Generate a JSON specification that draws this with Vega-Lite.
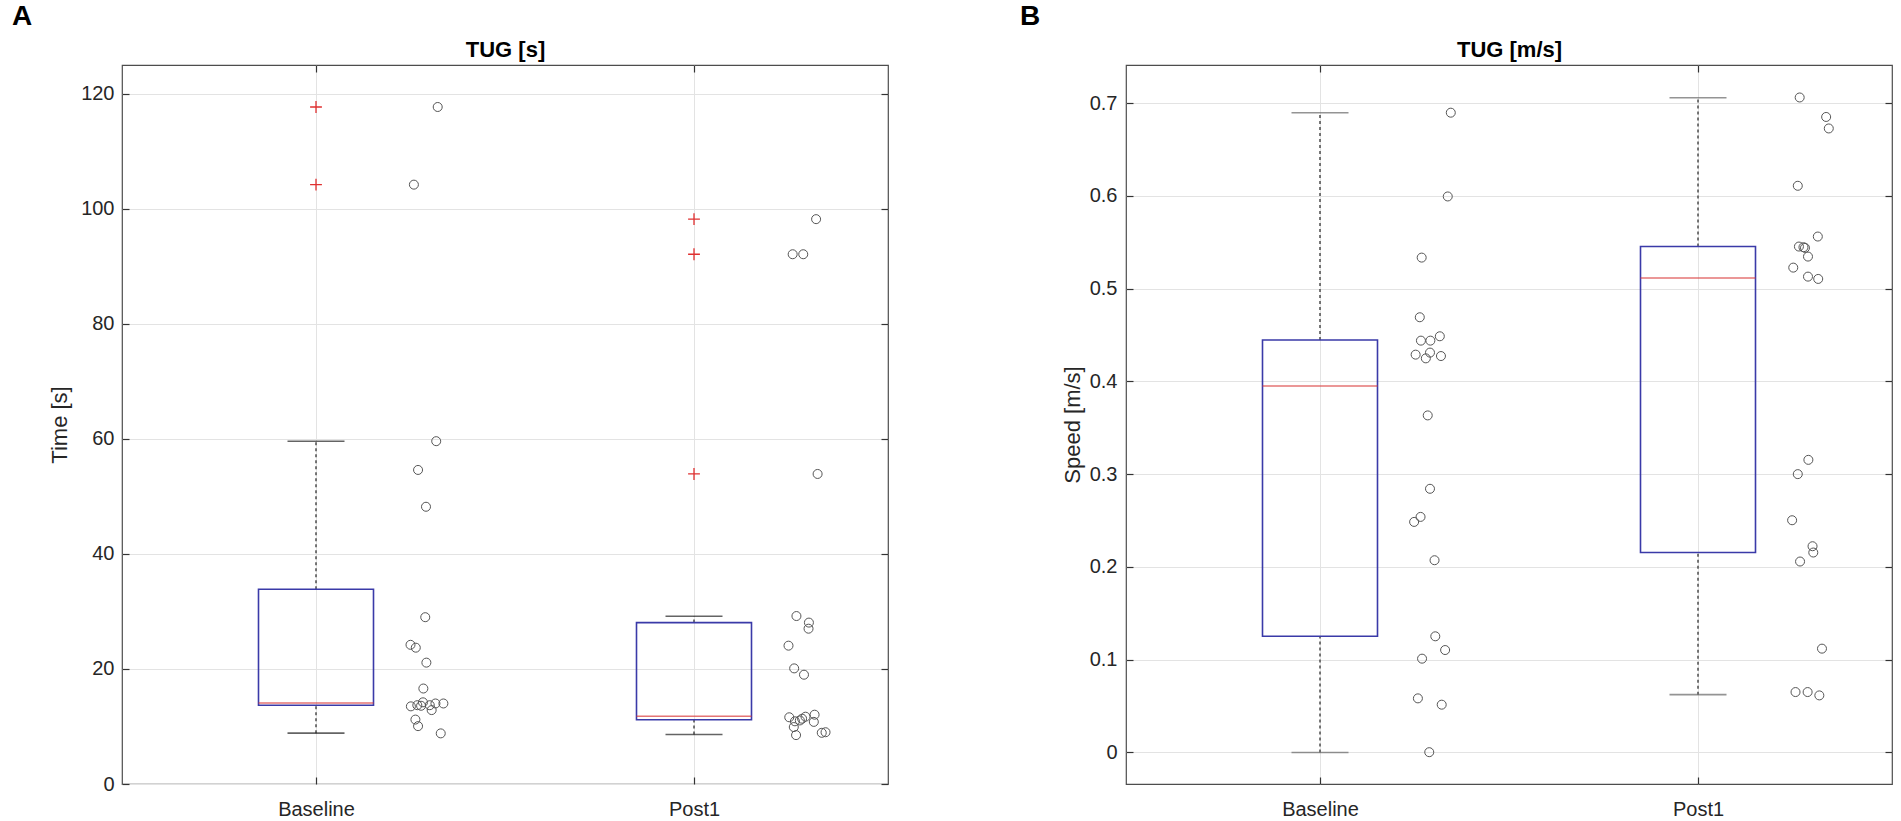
{
  "$schema": "https://vega.github.io/schema/vega-lite/v6.json",
  "padding": {"left": 11, "top": 2, "right": 0, "bottom": 0},
  "datasets": {
    "boxA": [
      {"grp": 1, "lo": 8.84, "q1": 13.7, "med": 14.1, "q3": 33.86, "hi": 59.6},
      {"grp": 2, "lo": 8.6, "q1": 11.17, "med": 11.8, "q3": 28.06, "hi": 29.16}
    ],
    "outA": [
      {"grp": 1, "val": 117.7},
      {"grp": 1, "val": 104.2},
      {"grp": 2, "val": 98.2},
      {"grp": 2, "val": 92.1},
      {"grp": 2, "val": 53.9}
    ],
    "ptsA": [
      {"xj": 1.322, "val": 117.7}, {"xj": 1.259, "val": 104.2}, {"xj": 1.318, "val": 59.6},
      {"xj": 1.270, "val": 54.6}, {"xj": 1.291, "val": 48.2}, {"xj": 1.289, "val": 29.0},
      {"xj": 1.250, "val": 24.2}, {"xj": 1.264, "val": 23.7}, {"xj": 1.292, "val": 21.1},
      {"xj": 1.284, "val": 16.6}, {"xj": 1.251, "val": 13.5}, {"xj": 1.268, "val": 13.7},
      {"xj": 1.283, "val": 14.2}, {"xj": 1.301, "val": 13.7}, {"xj": 1.316, "val": 14.0},
      {"xj": 1.337, "val": 14.0}, {"xj": 1.306, "val": 12.85}, {"xj": 1.278, "val": 13.6},
      {"xj": 1.263, "val": 11.2}, {"xj": 1.270, "val": 10.06}, {"xj": 1.330, "val": 8.8},
      {"xj": 2.323, "val": 98.2}, {"xj": 2.261, "val": 92.1}, {"xj": 2.289, "val": 92.1},
      {"xj": 2.327, "val": 53.9}, {"xj": 2.271, "val": 29.2}, {"xj": 2.304, "val": 28.06},
      {"xj": 2.303, "val": 27.0}, {"xj": 2.250, "val": 24.05}, {"xj": 2.265, "val": 20.1},
      {"xj": 2.291, "val": 19.0}, {"xj": 2.252, "val": 11.6}, {"xj": 2.267, "val": 10.9},
      {"xj": 2.280, "val": 11.05}, {"xj": 2.286, "val": 11.35}, {"xj": 2.295, "val": 11.7},
      {"xj": 2.319, "val": 12.05}, {"xj": 2.317, "val": 10.8}, {"xj": 2.264, "val": 9.9},
      {"xj": 2.270, "val": 8.5}, {"xj": 2.338, "val": 8.9}, {"xj": 2.348, "val": 9.0}
    ],
    "boxB": [
      {"grp": 1, "lo": 0.0, "q1": 0.1252, "med": 0.395, "q3": 0.4446, "hi": 0.6896},
      {"grp": 2, "lo": 0.0623, "q1": 0.2155, "med": 0.5115, "q3": 0.5453, "hi": 0.7057}
    ],
    "ptsB": [
      {"xj": 1.346, "val": 0.6896}, {"xj": 1.338, "val": 0.5993}, {"xj": 1.269, "val": 0.5334},
      {"xj": 1.264, "val": 0.4691}, {"xj": 1.267, "val": 0.4439}, {"xj": 1.292, "val": 0.4439},
      {"xj": 1.317, "val": 0.4486}, {"xj": 1.253, "val": 0.4288}, {"xj": 1.280, "val": 0.4248},
      {"xj": 1.291, "val": 0.431}, {"xj": 1.320, "val": 0.4273}, {"xj": 1.285, "val": 0.3633},
      {"xj": 1.291, "val": 0.2842}, {"xj": 1.249, "val": 0.2485}, {"xj": 1.266, "val": 0.2539},
      {"xj": 1.303, "val": 0.2072}, {"xj": 1.305, "val": 0.1252}, {"xj": 1.331, "val": 0.1104},
      {"xj": 1.270, "val": 0.1011}, {"xj": 1.259, "val": 0.0583}, {"xj": 1.322, "val": 0.0515},
      {"xj": 1.289, "val": 0.0003},
      {"xj": 2.269, "val": 0.706}, {"xj": 2.339, "val": 0.685}, {"xj": 2.346, "val": 0.6726},
      {"xj": 2.264, "val": 0.6108}, {"xj": 2.317, "val": 0.5561}, {"xj": 2.267, "val": 0.5453},
      {"xj": 2.279, "val": 0.5446}, {"xj": 2.283, "val": 0.5439}, {"xj": 2.291, "val": 0.5345},
      {"xj": 2.252, "val": 0.5226}, {"xj": 2.291, "val": 0.5129}, {"xj": 2.318, "val": 0.5104},
      {"xj": 2.292, "val": 0.3154}, {"xj": 2.264, "val": 0.300}, {"xj": 2.249, "val": 0.2503},
      {"xj": 2.303, "val": 0.2223}, {"xj": 2.305, "val": 0.2155}, {"xj": 2.270, "val": 0.2058},
      {"xj": 2.328, "val": 0.1119}, {"xj": 2.258, "val": 0.0651}, {"xj": 2.290, "val": 0.0651},
      {"xj": 2.321, "val": 0.0615}
    ]
  },
  "spacing": 129,
  "hconcat": [
    {
      "title": {"text": "A", "anchor": "start", "frame": "bounds", "fontSize": 28, "fontWeight": "bold", "dx": -36, "offset": 7, "color": "#000000"},
      "width": 766,
      "height": 719,
      "resolve": {"axis": {"x": "independent", "y": "independent"}},
      "layer": [
        {
          "data": {"name": "boxA"},
          "mark": {"type": "rule", "strokeDash": [3, 3], "color": "#333333", "strokeWidth": 1.3},
          "encoding": {
            "x": {"field": "grp", "type": "quantitative", "scale": {"domain": [0.5, 2.5], "nice": false, "zero": false},
              "axis": {"orient": "bottom", "title": null, "values": [1, 2], "labelExpr": "datum.value == 1 ? 'Baseline' : 'Post1'", "grid": true, "ticks": false, "labelPadding": 15}},
            "y": {"field": "q3", "type": "quantitative", "scale": {"domain": [0, 125], "nice": false, "zero": false},
              "axis": {"orient": "left", "title": "Time [s]", "values": [0, 20, 40, 60, 80, 100, 120], "grid": true, "ticks": false, "labelPadding": 8, "titlePadding": 9, "minExtent": 42, "maxExtent": 42}},
            "y2": {"field": "hi"}
          }
        },
        {
          "data": {"name": "boxA"},
          "mark": {"type": "rule", "strokeDash": [3, 3], "color": "#333333", "strokeWidth": 1.3},
          "encoding": {
            "x": {"field": "grp", "type": "quantitative",
              "axis": {"orient": "bottom", "title": null, "labels": false, "grid": false, "values": [1, 2], "ticks": true, "tickSize": -7, "minExtent": 0, "maxExtent": 0}},
            "y": {"field": "lo", "type": "quantitative",
              "axis": {"orient": "left", "title": null, "labels": false, "grid": false, "values": [0, 20, 40, 60, 80, 100, 120], "ticks": true, "tickSize": -7, "minExtent": 0, "maxExtent": 0}},
            "y2": {"field": "q1"}
          }
        },
        {
          "data": {"name": "boxA"},
          "mark": {"type": "bar", "size": 115, "fillOpacity": 0, "stroke": "#3a3aa8", "strokeWidth": 1.6},
          "encoding": {
            "x": {"field": "grp", "type": "quantitative", "axis": null},
            "y": {"field": "q1", "type": "quantitative", "axis": null},
            "y2": {"field": "q3"}
          }
        },
        {
          "data": {"name": "boxA"},
          "mark": {"type": "tick", "orient": "horizontal", "size": 115, "thickness": 1.5, "color": "#d83a3a"},
          "encoding": {
            "x": {"field": "grp", "type": "quantitative", "axis": null},
            "y": {"field": "med", "type": "quantitative", "axis": null}
          }
        },
        {
          "data": {"name": "boxA"},
          "mark": {"type": "tick", "orient": "horizontal", "size": 57, "thickness": 1.6, "color": "#222222"},
          "encoding": {
            "x": {"field": "grp", "type": "quantitative", "axis": null},
            "y": {"field": "lo", "type": "quantitative", "axis": null}
          }
        },
        {
          "data": {"name": "boxA"},
          "mark": {"type": "tick", "orient": "horizontal", "size": 57, "thickness": 1.6, "color": "#222222"},
          "encoding": {
            "x": {"field": "grp", "type": "quantitative", "axis": null},
            "y": {"field": "hi", "type": "quantitative", "axis": null}
          }
        },
        {
          "data": {"name": "outA"},
          "mark": {"type": "point", "shape": "M-1,0H1M0,-1V1", "filled": false, "size": 140, "stroke": "#e03030", "strokeWidth": 1.3, "opacity": 1},
          "encoding": {
            "x": {"field": "grp", "type": "quantitative", "axis": null},
            "y": {"field": "val", "type": "quantitative", "axis": null}
          }
        },
        {
          "data": {"name": "ptsA"},
          "mark": {"type": "point", "shape": "circle", "filled": false, "size": 81, "stroke": "#555555", "strokeWidth": 1, "opacity": 1},
          "encoding": {
            "x": {"field": "xj", "type": "quantitative",
              "axis": {"orient": "top", "title": "TUG [s]", "titleFontWeight": "bold", "titleFontSize": 22, "titleColor": "#000000", "titlePadding": 3, "labels": false, "grid": false, "values": [1, 2], "ticks": true, "tickSize": -7}},
            "y": {"field": "val", "type": "quantitative",
              "axis": {"orient": "right", "title": null, "labels": false, "grid": false, "values": [0, 20, 40, 60, 80, 100, 120], "ticks": true, "tickSize": -7, "minExtent": 0, "maxExtent": 0}}
          }
        }
      ]
    },
    {
      "title": {"text": "B", "anchor": "start", "frame": "bounds", "fontSize": 28, "fontWeight": "bold", "dx": -41, "offset": 7, "color": "#000000"},
      "width": 766,
      "height": 719,
      "resolve": {"axis": {"x": "independent", "y": "independent"}},
      "layer": [
        {
          "data": {"name": "boxB"},
          "mark": {"type": "rule", "strokeDash": [3, 3], "color": "#333333", "strokeWidth": 1.3},
          "encoding": {
            "x": {"field": "grp", "type": "quantitative", "scale": {"domain": [0.5, 2.5], "nice": false, "zero": false},
              "axis": {"orient": "bottom", "title": null, "values": [1, 2], "labelExpr": "datum.value == 1 ? 'Baseline' : 'Post1'", "grid": true, "ticks": false, "labelPadding": 15}},
            "y": {"field": "q3", "type": "quantitative", "scale": {"domain": [-0.034, 0.741], "nice": false, "zero": false},
              "axis": {"orient": "left", "title": "Speed [m/s]", "values": [0, 0.1, 0.2, 0.3, 0.4, 0.5, 0.6, 0.7], "format": ".1~f", "grid": true, "ticks": false, "labelPadding": 9, "titlePadding": 4, "minExtent": 38, "maxExtent": 38}},
            "y2": {"field": "hi"}
          }
        },
        {
          "data": {"name": "boxB"},
          "mark": {"type": "rule", "strokeDash": [3, 3], "color": "#333333", "strokeWidth": 1.3},
          "encoding": {
            "x": {"field": "grp", "type": "quantitative",
              "axis": {"orient": "bottom", "title": null, "labels": false, "grid": false, "values": [1, 2], "ticks": true, "tickSize": -7, "minExtent": 0, "maxExtent": 0}},
            "y": {"field": "lo", "type": "quantitative",
              "axis": {"orient": "left", "title": null, "labels": false, "grid": false, "values": [0, 0.1, 0.2, 0.3, 0.4, 0.5, 0.6, 0.7], "ticks": true, "tickSize": -7, "minExtent": 0, "maxExtent": 0}},
            "y2": {"field": "q1"}
          }
        },
        {
          "data": {"name": "boxB"},
          "mark": {"type": "bar", "size": 115, "fillOpacity": 0, "stroke": "#3a3aa8", "strokeWidth": 1.6},
          "encoding": {
            "x": {"field": "grp", "type": "quantitative", "axis": null},
            "y": {"field": "q1", "type": "quantitative", "axis": null},
            "y2": {"field": "q3"}
          }
        },
        {
          "data": {"name": "boxB"},
          "mark": {"type": "tick", "orient": "horizontal", "size": 115, "thickness": 1.5, "color": "#d83a3a"},
          "encoding": {
            "x": {"field": "grp", "type": "quantitative", "axis": null},
            "y": {"field": "med", "type": "quantitative", "axis": null}
          }
        },
        {
          "data": {"name": "boxB"},
          "mark": {"type": "tick", "orient": "horizontal", "size": 57, "thickness": 1.6, "color": "#666666"},
          "encoding": {
            "x": {"field": "grp", "type": "quantitative", "axis": null},
            "y": {"field": "lo", "type": "quantitative", "axis": null}
          }
        },
        {
          "data": {"name": "boxB"},
          "mark": {"type": "tick", "orient": "horizontal", "size": 57, "thickness": 1.6, "color": "#666666"},
          "encoding": {
            "x": {"field": "grp", "type": "quantitative", "axis": null},
            "y": {"field": "hi", "type": "quantitative", "axis": null}
          }
        },
        {
          "data": {"name": "ptsB"},
          "mark": {"type": "point", "shape": "circle", "filled": false, "size": 81, "stroke": "#555555", "strokeWidth": 1, "opacity": 1},
          "encoding": {
            "x": {"field": "xj", "type": "quantitative",
              "axis": {"orient": "top", "title": "TUG [m/s]", "titleFontWeight": "bold", "titleFontSize": 22, "titleColor": "#000000", "titlePadding": 3, "labels": false, "grid": false, "values": [1, 2], "ticks": true, "tickSize": -7}},
            "y": {"field": "val", "type": "quantitative",
              "axis": {"orient": "right", "title": null, "labels": false, "grid": false, "values": [0, 0.1, 0.2, 0.3, 0.4, 0.5, 0.6, 0.7], "ticks": true, "tickSize": -7, "minExtent": 0, "maxExtent": 0}}
          }
        }
      ]
    }
  ],
  "config": {
    "font": "Liberation Sans",
    "view": {"stroke": "#4d4d4d", "strokeWidth": 1.2},
    "axis": {
      "domain": false,
      "labelFont": "Liberation Sans",
      "titleFont": "Liberation Sans",
      "labelFontSize": 20,
      "titleFontSize": 22,
      "titleFontWeight": "normal",
      "labelColor": "#262626",
      "titleColor": "#262626",
      "gridColor": "#e3e3e3",
      "gridWidth": 1,
      "tickColor": "#333333",
      "tickWidth": 1.2
    },
    "title": {"font": "Liberation Sans"}
  }
}
